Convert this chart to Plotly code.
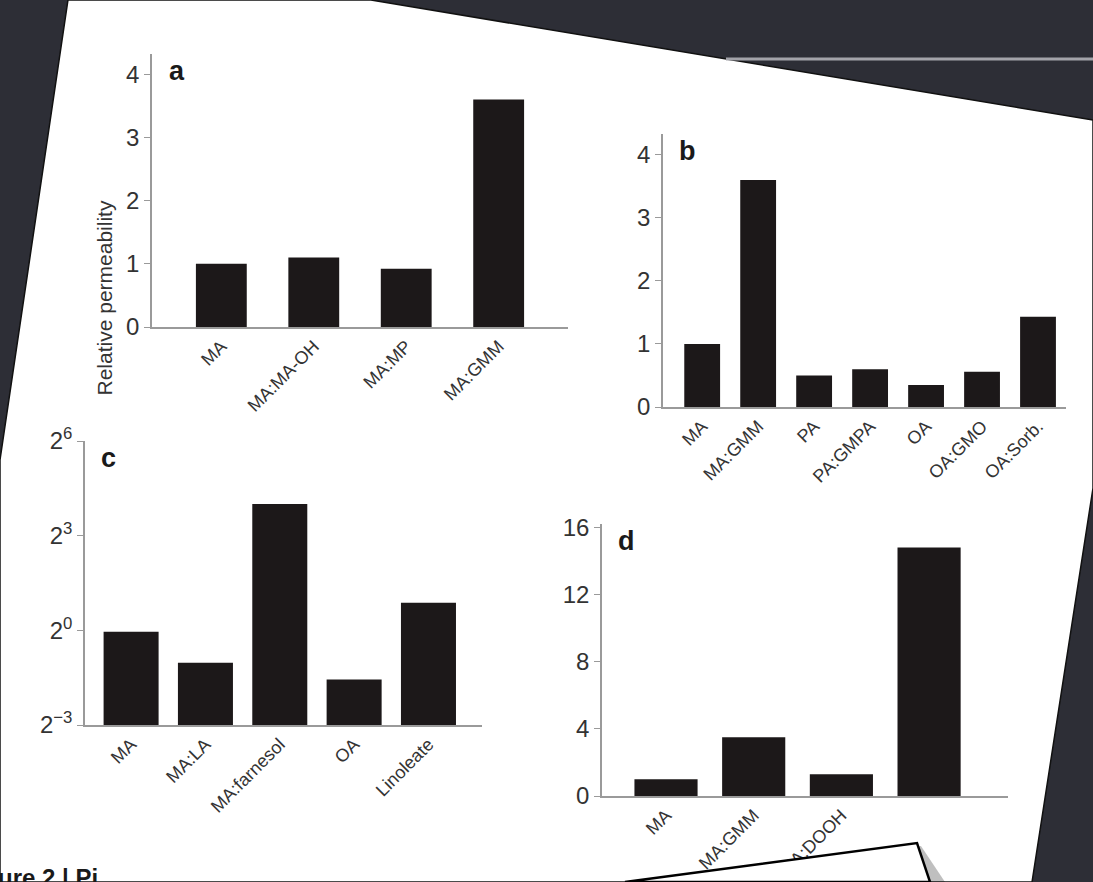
import math
import plotly.graph_objects as go

W, H = 1093, 882

# ---------------- data ----------------
a_labels = ["MA", "MA:MA-OH", "MA:MP", "MA:GMM"]
a_values = [1.0, 1.1, 0.92, 3.6]

b_labels = ["MA", "MA:GMM", "PA", "PA:GMPA", "OA", "OA:GMO", "OA:Sorb."]
b_values = [1.0, 3.6, 0.5, 0.6, 0.35, 0.56, 1.43]

c_labels = ["MA", "MA:LA", "MA:farnesol", "OA", "Linoleate"]
c_values = [0.97, 0.49, 16.0, 0.34, 1.83]

d_labels = ["MA", "MA:GMM", "MA:DOOH", "(hidden)"]
d_ticktext = ["MA", "MA:GMM", "MA:DOOH", ""]
d_values = [1.0, 3.5, 1.3, 14.8]

lin_ticks_ab = [0, 1, 2, 3, 4]
lin_ticks_d = [0, 4, 8, 12, 16]
log_ticks_c = [2 ** -3, 2 ** 0, 2 ** 3, 2 ** 6]
log_ticktext_c = ["2<sup>−3</sup>", "2<sup>0</sup>", "2<sup>3</sup>", "2<sup>6</sup>"]

FONT = "Arial, Liberation Sans, Helvetica, sans-serif"
BAR = "#1c1819"
AXC = "#9a9a9a"
TXT = "#333333"
DARK = "#2d2e36"


def px_x(x):
    return x / W


def px_y(y):
    return 1 - y / H


fig = go.Figure()

fig.add_trace(go.Bar(x=a_labels, y=a_values, xaxis="x", yaxis="y",
                     marker=dict(color=BAR, line=dict(width=0)), width=0.55))
fig.add_trace(go.Bar(x=b_labels, y=b_values, xaxis="x2", yaxis="y2",
                     marker=dict(color=BAR, line=dict(width=0)), width=0.64))
fig.add_trace(go.Bar(x=c_labels, y=c_values, xaxis="x3", yaxis="y3",
                     marker=dict(color=BAR, line=dict(width=0)), width=0.74))
fig.add_trace(go.Bar(x=d_labels, y=d_values, xaxis="x4", yaxis="y4",
                     marker=dict(color=BAR, line=dict(width=0)), width=0.72))


def xax(domain, rng, anchor, ticktext=None, tickvals=None):
    d = dict(domain=domain, range=rng, anchor=anchor, type="category",
             automargin=False,
             showline=True, linecolor=AXC, linewidth=1.6, showgrid=False,
             zeroline=False, ticks="", tickangle=-45,
             tickfont=dict(family=FONT, size=18, color=TXT), fixedrange=True)
    if ticktext is not None:
        d.update(tickmode="array", tickvals=tickvals, ticktext=ticktext)
    return d


def yax(domain, rng, anchor, tickvals, ticktext=None, log=False):
    d = dict(domain=domain, range=rng, anchor=anchor, automargin=False,
             showline=True, linecolor=AXC, linewidth=1.6, showgrid=False,
             zeroline=False, ticks="outside", ticklen=6, tickcolor=AXC,
             tickwidth=1.4, tickmode="array", tickvals=tickvals,
             tickfont=dict(family=FONT, size=24, color=TXT), fixedrange=True)
    if ticktext is not None:
        d["ticktext"] = ticktext
    if log:
        d["type"] = "log"
    return d


fig.update_layout(
    width=W, height=H,
    margin=dict(l=0, r=0, t=0, b=0, pad=0, autoexpand=False),
    paper_bgcolor=DARK,
    plot_bgcolor="rgba(0,0,0,0)",
    showlegend=False,
    xaxis=xax([px_x(152), px_x(568)], [-0.75, 3.75], "y"),
    yaxis=yax([px_y(327), px_y(54)], [0, 4.32], "x", lin_ticks_ab),
    xaxis2=xax([px_x(663), px_x(1066)], [-0.7, 6.5], "y2"),
    yaxis2=yax([px_y(407), px_y(134)], [0, 4.33], "x2", lin_ticks_ab),
    xaxis3=xax([px_x(85), px_x(482)], [-0.62, 4.72], "y3"),
    yaxis3=yax([px_y(725), px_y(441)], [math.log10(2 ** -3), math.log10(2 ** 6)],
               "x3", log_ticks_c, log_ticktext_c, log=True),
    xaxis4=xax([px_x(602), px_x(1008)], [-0.73, 3.9], "y4",
               ticktext=d_ticktext, tickvals=d_labels),
    yaxis4=yax([px_y(796), px_y(524)], [0, 16.2], "x4", lin_ticks_d),
)

# panel letters
for ref, letter in [("x", "a"), ("x2", "b"), ("x3", "c"), ("x4", "d")]:
    yref = "y" + ref[1:]
    fig.add_annotation(text=f"<b>{letter}</b>", xref=f"{ref} domain", yref=f"{yref} domain",
                       x=0.035, y=1.0, xanchor="left", yanchor="top", showarrow=False,
                       font=dict(family=FONT, size=27, color="#1a1a1a"))

# shared y-axis title
fig.add_annotation(text="Relative permeability", xref="paper", yref="paper",
                   x=px_x(90), y=px_y(298), textangle=-90, showarrow=False,
                   font=dict(family=FONT, size=21, color=TXT))

# caption at the bottom of the page, cut off by the photo edge
fig.add_annotation(text="<b>ure 2 | Pi</b>", xref="paper", yref="paper",
                   x=px_x(-4), y=px_y(862), xanchor="left", yanchor="top",
                   showarrow=False, font=dict(family=FONT, size=24, color="#1a1a1a"))


def path(points):
    return "M " + " L ".join(f"{px_x(x):.4f},{px_y(y):.4f}" for x, y in points) + " Z"


# white page (photographed slide, slightly rotated)
page = [(68, 0), (371, 0), (1093, 120), (1093, 488), (1032, 882), (0, 882), (0, 460)]
fig.add_shape(type="path", path=path(page), xref="paper", yref="paper",
              fillcolor="white", line=dict(color="#111111", width=1.5), layer="below")

# grey slide rule line at the top right
fig.add_shape(type="line", xref="paper", yref="paper",
              x0=px_x(726), y0=px_y(59), x1=1, y1=px_y(59),
              line=dict(color="#a3a3aa", width=3), layer="below")

# overlapping white card at bottom (with soft shadow)
fig.add_shape(type="path", path=path([(629, 882), (921, 846), (945, 882)]),
              xref="paper", yref="paper", fillcolor="rgba(0,0,0,0.25)",
              line=dict(width=0), layer="above")
fig.add_shape(type="path", path=path([(625, 882), (917, 843), (930, 882)]),
              xref="paper", yref="paper", fillcolor="white",
              line=dict(color="#000000", width=2.5), layer="above")

fig.write_html(
    "out.html",
    config={"displayModeBar": False},
    post_script="document.body.style.margin='0';document.body.style.background='%s';" % DARK,
)
